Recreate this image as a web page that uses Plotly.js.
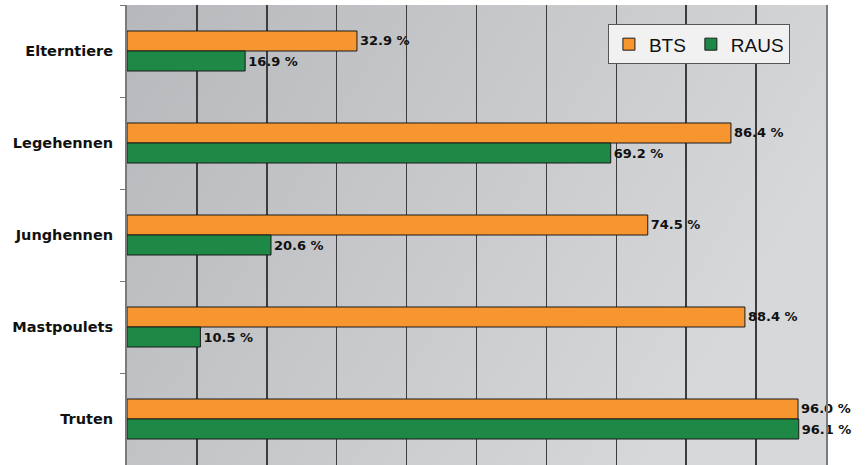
<!DOCTYPE html>
<html>
<head>
<meta charset="utf-8">
<script src="https://cdn.plot.ly/plotly-3.0.1.min.js"></script>
<style>html,body{margin:0;padding:0;background:#fff;}#chart{width:865px;height:465px;}</style>
</head>
<body>
<div id="chart"></div>
<script>
const categories = ["Elterntiere", "Legehennen", "Junghennen", "Mastpoulets", "Truten"];
const btsValues = [32.9, 86.4, 74.5, 88.4, 96.0];
const rausValues = [16.9, 69.2, 20.6, 10.5, 96.1];
const seriesNames = ["BTS", "RAUS"];

const gradSvg = '<svg xmlns="http://www.w3.org/2000/svg" width="100" height="100" preserveAspectRatio="none">' +
  '<defs><linearGradient id="g" x1="0" y1="0" x2="1" y2="0.4">' +
  '<stop offset="0" stop-color="#b6b8bb"/><stop offset="1" stop-color="#d7d8da"/></linearGradient></defs>' +
  '<rect width="100" height="100" fill="url(#g)"/></svg>';
const gradSrc = 'data:image/svg+xml;base64,' + btoa(gradSvg);

const labelFont = {family: 'DejaVu Sans, Arial, sans-serif', size: 13, color: '#111', weight: 'bold'};

const traces = [
  {
    type: 'bar', orientation: 'h', name: seriesNames[0],
    y: categories, x: btsValues,
    marker: {color: '#f7962f', line: {color: '#1a1a1a', width: 1}},
    text: btsValues.map(v => v.toFixed(1) + ' %'),
    textposition: 'outside', textfont: labelFont, constraintext: 'none', cliponaxis: false,
    hoverinfo: 'skip'
  },
  {
    type: 'bar', orientation: 'h', name: seriesNames[1],
    y: categories, x: rausValues,
    marker: {color: '#1e8846', line: {color: '#1a1a1a', width: 1}},
    text: rausValues.map(v => v.toFixed(1) + ' %'),
    textposition: 'outside', textfont: labelFont, constraintext: 'none', cliponaxis: false,
    hoverinfo: 'skip'
  }
];

const layout = {
  width: 865, height: 465,
  margin: {l: 127, r: 39, t: 5, b: 0, pad: 0},
  paper_bgcolor: '#ffffff',
  plot_bgcolor: 'rgba(0,0,0,0)',
  barmode: 'group',
  bargap: 0.565,
  bargroupgap: 0,
  showlegend: true,
  legend: {
    orientation: 'h', x: 0.688, y: 0.958, xanchor: 'left', yanchor: 'top',
    bgcolor: '#f1f1f1', bordercolor: '#555', borderwidth: 1,
    font: {family: 'Liberation Sans, Arial, sans-serif', size: 19, color: '#111'},
    itemwidth: 30, tracegroupgap: 0
  },
  xaxis: {
    range: [0, 100], tickmode: 'array', tickvals: [10, 20, 30, 40, 50, 60, 70, 80, 90],
    showticklabels: false, ticks: '',
    showgrid: true, gridcolor: '#3c3c3c', gridwidth: 1.5,
    zeroline: false, showline: false, fixedrange: true
  },
  yaxis: {
    type: 'category', autorange: 'reversed',
    tickson: 'boundaries', ticks: 'outside', ticklen: 5, tickcolor: '#777', tickwidth: 1,
    ticklabelstandoff: 9,
    tickfont: {family: 'DejaVu Sans, Arial, sans-serif', size: 14.5, color: '#111', weight: 'bold'},
    showline: true, mirror: true, linecolor: '#7a7a7a', linewidth: 2,
    showgrid: false, zeroline: false, fixedrange: true
  },
  images: [{
    source: gradSrc, xref: 'paper', yref: 'paper', x: 0, y: 1, sizex: 1, sizey: 1,
    sizing: 'stretch', xanchor: 'left', yanchor: 'top', layer: 'below'
  }]
};

Plotly.newPlot('chart', traces, layout, {displayModeBar: false, staticPlot: true});
</script>
</body>
</html>
